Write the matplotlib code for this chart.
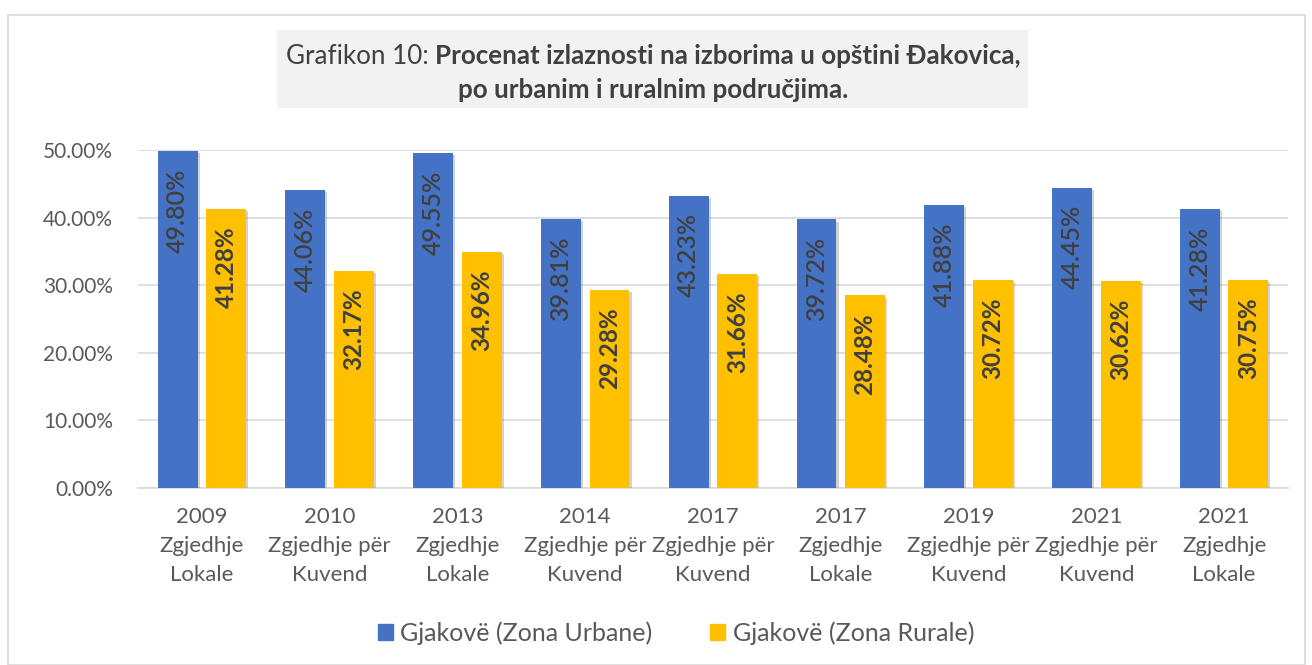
import matplotlib.pyplot as plt
import matplotlib.patches as mpatches
import matplotlib.patheffects as pe
import numpy as np

# ==================================
# DATA
# ==================================

categories = [
    "2009\nZgjedhje\nLokale",
    "2010\nZgjedhje për\nKuvend",
    "2013\nZgjedhje\nLokale",
    "2014\nZgjedhje për\nKuvend",
    "2017\nZgjedhje për\nKuvend",
    "2017\nZgjedhje\nLokale",
    "2019\nZgjedhje për\nKuvend",
    "2021\nZgjedhje për\nKuvend",
    "2021\nZgjedhje\nLokale",
]

urban = [49.80, 44.06, 49.55, 39.81, 43.23, 39.72, 41.88, 44.45, 41.28]
rural = [41.28, 32.17, 34.96, 29.28, 31.66, 28.48, 30.72, 30.62, 30.75]

series_names = ["Gjakovë (Zona Urbane)", "Gjakovë (Zona Rurale)"]
y_ticks = [0, 10, 20, 30, 40, 50]

# ==================================
# STYLE
# ==================================

plt.rcParams["font.family"] = ["Lato", "DejaVu Sans"]

blue = "#4472C4"
yellow = "#FFC000"
text_col = "#404040"
tick_col = "#595959"

W, H = 1312, 665
fig = plt.figure(figsize=(W / 100, H / 100), dpi=100)

# outer frame
fig.patches.append(mpatches.Rectangle(
    (8 / W, 0.0), 1297 / W, 650 / H,
    transform=fig.transFigure, fill=False,
    edgecolor="#d9d9d9", linewidth=1.2
))

ax = fig.add_axes([138 / W, 1 - 488 / H, 1150 / W, 338 / H])

x = np.arange(len(categories))
width = 0.313
offset = 0.19

shadow = [pe.SimplePatchShadow(offset=(1.5, -1.5), shadow_rgbFace="#7f7f7f", alpha=0.35),
          pe.Normal()]

bars_u = ax.bar(x - offset, urban, width, color=blue, zorder=3)
bars_r = ax.bar(x + offset, rural, width, color=yellow, zorder=3)
for b in list(bars_u) + list(bars_r):
    b.set_path_effects(shadow)

# value labels, rotated, inside top of bars
for bar, val in zip(bars_u, urban):
    ax.text(bar.get_x() + bar.get_width() / 2, val - 2.6,
            f"{val:.2f}%", rotation=90, ha="center", va="top",
            fontsize=18, color=text_col, fontweight="semibold", zorder=4)

for bar, val in zip(bars_r, rural):
    ax.text(bar.get_x() + bar.get_width() / 2, val - 2.6,
            f"{val:.2f}%", rotation=90, ha="center", va="top",
            fontsize=17.5, color=text_col, fontweight="bold", zorder=4)

ax.set_xlim(-0.5, len(categories) - 0.5)
ax.set_ylim(0, 50)
ax.set_yticks(y_ticks)
ax.set_yticklabels([f"{t:.2f}%" for t in y_ticks], fontsize=15, color=tick_col)
ax.set_xticks(x)
ax.set_xticklabels(categories, fontsize=16, color=tick_col, linespacing=1.55)

ax.tick_params(axis="both", length=0)
ax.tick_params(axis="y", pad=18)
ax.tick_params(axis="x", pad=14)

ax.grid(axis="y", color="#d9d9d9", linewidth=1.2, zorder=0)
for side in ["top", "right", "left"]:
    ax.spines[side].set_visible(False)
ax.spines["bottom"].set_color("#d9d9d9")
ax.spines["bottom"].set_linewidth(1.2)

# ==================================
# TITLE BOX
# ==================================

fig.patches.append(mpatches.Rectangle(
    (277 / W, 1 - 108 / H), 751 / W, 78 / H,
    transform=fig.transFigure, facecolor="#f2f2f2", edgecolor="none"
))

title_size = 18.7
cx = 653 / W
t1 = fig.text(0, 1 - 56 / H, "Grafikon 10: ", fontsize=title_size,
              color=text_col, ha="left", va="center")
t2 = fig.text(0, 1 - 56 / H,
              "Procenat izlaznosti na izborima u opštini Đakovica,",
              fontsize=title_size, color=text_col, fontweight="bold",
              ha="left", va="center")
fig.canvas.draw()
r = fig.canvas.get_renderer()
w1 = t1.get_window_extent(r).width / W
w2 = t2.get_window_extent(r).width / W
start = cx - (w1 + w2) / 2
t1.set_x(start)
t2.set_x(start + w1)

fig.text(cx, 1 - 90 / H, "po urbanim i ruralnim područjima.",
         fontsize=title_size, color=text_col, fontweight="bold",
         ha="center", va="center")

# ==================================
# LEGEND
# ==================================

handles = [mpatches.Patch(color=blue), mpatches.Patch(color=yellow)]
fig.legend(handles, series_names, loc="center",
           bbox_to_anchor=(676 / W, 1 - 633 / H), ncol=2,
           frameon=False, fontsize=18, labelcolor=tick_col,
           handlelength=0.6, handleheight=0.6, handletextpad=0.3,
           columnspacing=2.3)

fig.savefig("out.png", dpi=100)
